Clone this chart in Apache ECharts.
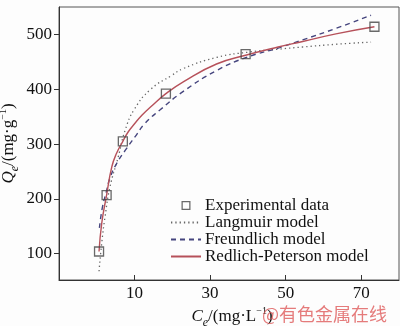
<!DOCTYPE html>
<html>
<head>
<meta charset="utf-8">
<script src="https://cdn.jsdelivr.net/npm/echarts@6/dist/echarts.min.js"></script>
<style>html,body{margin:0;padding:0;background:#fdfdfd;}#c{width:400px;height:326px;}</style>
</head>
<body>
<div id="c"></div>
<script>
// Experimental data: [Ce, Qe]
const expData = [[0.6,104],[2.6,207],[6.9,305],[18.3,392],[39.4,464],[73.5,514]];
// Model curves
const langmuir = [[0.6,68],[1.35,122],[2.2,168],[3.5,222],[5.7,277],[7.5,325],[10,364],[14.3,400],[19.8,425],[23,438],[31.7,458],[40.5,468],[48,473],[54.5,477],[63.3,482],[72.6,486]];
const freundlich = [[0.7,147],[1.5,185],[2.5,212],[3.5,238],[5.3,265],[7.9,292],[10.1,313],[12.8,338],[16.7,362],[22.9,396],[31.7,434],[39.6,458],[48.4,476],[54.5,490],[63.3,511],[72.6,535]];
const redlich = [[0.6,104],[1.3,155],[2.6,207],[4,259],[5.3,284],[6.9,305],[8.3,322],[10,337],[12,353],[14.3,368],[18.3,392],[23,414],[31.7,446],[39.4,462],[48,477],[54.5,487],[63.3,501],[73.5,514]];
const xTicks = [10,30,50,70];
const yTicks = [100,200,300,400,500];
const seriesNames = ['Experimental data','Langmuir model','Freundlich model','Redlich-Peterson model'];

const FONT = '"Liberation Serif", "Times New Roman", serif';
const chart = echarts.init(document.getElementById('c'), null, {renderer:'canvas'});
const rich = {
  i:{fontFamily:FONT,fontStyle:'italic',fontSize:17,color:'#111',lineHeight:20},
  sub:{fontFamily:FONT,fontStyle:'italic',fontSize:12,color:'#111',verticalAlign:'bottom',lineHeight:20,padding:[0,0,-2,0]},
  t:{fontFamily:FONT,fontSize:17,color:'#111',lineHeight:20},
  sup:{fontFamily:FONT,fontSize:10,color:'#111',verticalAlign:'top',lineHeight:20,padding:[-1,0,0,0]}
};
const hollowSquare = 'path://M0,0H10V10H0Z M1.4,1.4V8.6H8.6V1.4Z';
chart.setOption({
  animation:false,
  backgroundColor:'#fdfdfd',
  grid:{left:59,right:1,top:7,bottom:46,outerBoundsMode:'none',containLabel:false,
        show:true,borderColor:'#555',borderWidth:1,backgroundColor:'#fdfdfd'},
  legend:{
    orient:'vertical',left:165,top:192,itemWidth:30,itemHeight:9,itemGap:0,
    textStyle:{fontFamily:FONT,fontSize:17,color:'#111',lineHeight:16.6,padding:[0,0,0,-1]},
    data:[
      {name:seriesNames[0],icon:hollowSquare,itemStyle:{color:'#444',borderWidth:0,borderColor:'rgba(0,0,0,0)'}},
      {name:seriesNames[1],itemStyle:{opacity:0}},
      {name:seriesNames[2],itemStyle:{opacity:0}},
      {name:seriesNames[3],itemStyle:{opacity:0}}
    ]
  },
  xAxis:{
    type:'value',min:-10,max:80,
    axisLine:{onZero:false,lineStyle:{color:'#333',width:1}},
    axisTick:{inside:true,length:5,customValues:xTicks,lineStyle:{color:'#333'}},
    axisLabel:{customValues:xTicks,fontFamily:FONT,fontSize:17,color:'#111',margin:5},
    splitLine:{show:false},
    name:'{i|C}{sub|e}{t|/(mg·L}{sup|−1}{t|)}',
    nameLocation:'middle',nameGap:27,nameMoveOverlap:false,
    nameTextStyle:{rich:rich,padding:[0,0,0,6]}
  },
  yAxis:{
    type:'value',min:52,max:550,
    axisLine:{onZero:false,lineStyle:{color:'#333',width:1}},
    axisTick:{inside:false,length:5,customValues:yTicks,lineStyle:{color:'#333'}},
    axisLabel:{customValues:yTicks,fontFamily:FONT,fontSize:17,color:'#111',margin:7},
    splitLine:{show:false},
    name:'{i|Q}{sub|e}{t|/(mg·g}{sup|−1}{t|)}',
    nameLocation:'middle',nameGap:40,nameRotate:90,nameMoveOverlap:false,
    nameTextStyle:{rich:rich}
  },
  series:[
    {name:seriesNames[0],type:'scatter',data:expData,symbol:'rect',symbolSize:9,z:5,
     itemStyle:{color:'rgba(0,0,0,0)',borderColor:'#444',borderWidth:1.3}},
    {name:seriesNames[1],type:'line',data:langmuir,smooth:true,symbol:'none',
     itemStyle:{color:'#666'},lineStyle:{color:'#666',width:1.3,type:[1.3,3]}},
    {name:seriesNames[2],type:'line',data:freundlich,smooth:true,symbol:'none',
     itemStyle:{color:'#45457e'},lineStyle:{color:'#45457e',width:1.4,type:[5,4]}},
    {name:seriesNames[3],type:'line',data:redlich,smooth:true,symbol:'none',
     itemStyle:{color:'#b6515a'},lineStyle:{color:'#b6515a',width:1.4}}
  ],
  graphic:[{type:'text',left:262,top:305,z:10,
    style:{text:'@有色金属在线',fontFamily:'"Noto Sans CJK SC"',fontSize:18,fill:'rgba(222,90,90,0.8)'}}]
});
</script>
</body>
</html>
